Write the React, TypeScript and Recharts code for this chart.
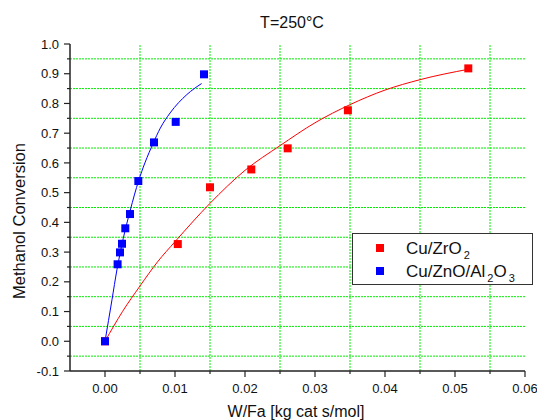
import React from "react";
import {
  ComposedChart, Line, Scatter, XAxis, YAxis, ReferenceLine, Label,
} from "recharts";

// measured points
const ZRO2_X = [0, 0.0104, 0.015, 0.0209, 0.0261, 0.0347, 0.0519];
const ZRO2_Y = [0, 0.327, 0.518, 0.578, 0.649, 0.777, 0.918];
const ZNO_X = [0, 0.0018, 0.00214, 0.00243, 0.0029, 0.00357, 0.00476, 0.007, 0.0101, 0.01414];
const ZNO_Y = [0, 0.259, 0.299, 0.328, 0.38, 0.428, 0.539, 0.669, 0.738, 0.898];

// fitted curves
const ZRO2_FIT_X = [0, 0.0025, 0.005, 0.0075, 0.01, 0.015, 0.02, 0.025, 0.03, 0.035, 0.04, 0.045, 0.0519];
const ZRO2_FIT_Y = [0, 0.1, 0.186, 0.267, 0.335, 0.464, 0.575, 0.658, 0.735, 0.796, 0.845, 0.88, 0.915];
const ZNO_FIT_X = [0, 0.001, 0.0017, 0.0026, 0.0036, 0.0048, 0.0057, 0.0069, 0.0079, 0.0093, 0.0117, 0.0138];
const ZNO_FIT_Y = [0, 0.14, 0.24, 0.345, 0.44, 0.54, 0.6, 0.667, 0.717, 0.768, 0.83, 0.867];

const X_MAJOR = [0, 0.01, 0.02, 0.03, 0.04, 0.05, 0.06];
const X_MINOR = [0.005, 0.015, 0.025, 0.035, 0.045, 0.055];
const Y_MAJOR = [-0.1, 0, 0.1, 0.2, 0.3, 0.4, 0.5, 0.6, 0.7, 0.8, 0.9, 1.0];
const Y_MINOR = [-0.05, 0.05, 0.15, 0.25, 0.35, 0.45, 0.55, 0.65, 0.75, 0.85, 0.95];

const TITLE = "T=250°C";
const X_LABEL = "W/Fa [kg cat s/mol]";
const Y_LABEL = "Methanol Conversion";

const zip = (xs: number[], ys: number[]) => xs.map((x, i) => ({ x, y: ys[i] }));

const FONT = "'Liberation Sans', Arial, sans-serif";
const AXIS = "#222";
const GRID = "#00ee00";

const isMajor = (list: number[], v: number) => list.some((m) => Math.abs(m - v) < 1e-9);

function XTick(props: any) {
  const { x, y, payload } = props;
  const major = isMajor(X_MAJOR, payload.value);
  return (
    <g>
      <line x1={x} x2={x} y1={y} y2={y + (major ? 6 : 3)} stroke={AXIS} strokeWidth={1.2} />
      {major && (
        <text x={x} y={y + 22} textAnchor="middle" fontSize={13} fontFamily={FONT} fill="#111">
          {payload.value.toFixed(2)}
        </text>
      )}
    </g>
  );
}

function YTick(props: any) {
  const { x, y, payload } = props;
  const major = isMajor(Y_MAJOR, payload.value);
  return (
    <g>
      <line x1={x} x2={x - (major ? 6 : 3)} y1={y} y2={y} stroke={AXIS} strokeWidth={1.2} />
      {major && (
        <text x={x - 11} y={y} dy="0.36em" textAnchor="end" fontSize={13} fontFamily={FONT} fill="#111">
          {payload.value.toFixed(1)}
        </text>
      )}
    </g>
  );
}

const LEGEND = [
  { color: "#ff0000", base: "Cu/ZrO", parts: [["2", true]] },
  { color: "#0000ff", base: "Cu/ZnO/Al", parts: [["2", true], ["O", false], ["3", true]] },
] as const;

export default function App() {
  const xTicks = [...X_MAJOR, ...X_MINOR].sort((a, b) => a - b);
  const yTicks = [...Y_MAJOR, ...Y_MINOR].sort((a, b) => a - b);

  return (
    <div style={{ position: "absolute", left: 0, top: 0, width: 537, height: 420, background: "#fff", fontFamily: FONT }}>
      <ComposedChart width={537} height={420} margin={{ top: 44, right: 12, bottom: 0, left: 0 }}>
        <XAxis
          dataKey="x"
          type="number"
          domain={[-0.005, 0.06]}
          ticks={xTicks}
          interval={0}
          allowDataOverflow
          height={49}
          tickSize={0}
          tickMargin={0}
          tickLine={false}
          tick={(p: any) => <XTick {...p} />}
          axisLine={{ stroke: AXIS, strokeWidth: 1.5 }}
        >
          <Label
            content={() => (
              <text x={296} y={417} textAnchor="middle" fontSize={16} fontFamily={FONT} fill="#111">
                {X_LABEL}
              </text>
            )}
          />
        </XAxis>
        <YAxis
          dataKey="y"
          type="number"
          domain={[-0.1, 1.0]}
          ticks={yTicks}
          interval={0}
          allowDataOverflow
          width={70}
          tickSize={0}
          tickMargin={0}
          tickLine={false}
          tick={(p: any) => <YTick {...p} />}
          axisLine={{ stroke: AXIS, strokeWidth: 1.5 }}
        >
          <Label
            content={() => (
              <text
                x={19}
                y={221}
                dy="0.35em"
                transform="rotate(-90 19 221)"
                textAnchor="middle"
                fontSize={16.5}
                fontFamily={FONT}
                fill="#111"
              >
                {Y_LABEL}
              </text>
            )}
          />
        </YAxis>
        {/* grid sits on the minor ticks only */}
        {X_MINOR.map((v) => (
          <ReferenceLine key={`gx${v}`} x={v} stroke={GRID} strokeDasharray="2 1" />
        ))}
        {Y_MINOR.map((v) => (
          <ReferenceLine key={`gy${v}`} y={v} stroke={GRID} strokeDasharray="2 1" />
        ))}
        <Line data={zip(ZRO2_FIT_X, ZRO2_FIT_Y)} dataKey="y" type="monotone" dot={false} stroke="#ff0000" strokeWidth={1} isAnimationActive={false} />
        <Line data={zip(ZNO_FIT_X, ZNO_FIT_Y)} dataKey="y" type="monotone" dot={false} stroke="#0000ff" strokeWidth={1} isAnimationActive={false} />
        <Scatter data={zip(ZRO2_X, ZRO2_Y)} dataKey="y" fill="#ff0000" shape="square" isAnimationActive={false} />
        <Scatter data={zip(ZNO_X, ZNO_Y)} dataKey="y" fill="#0000ff" shape="square" isAnimationActive={false} />
      </ComposedChart>

      <div style={{ position: "absolute", left: 232, top: 13, width: 120, textAlign: "center", fontSize: 16, color: "#111", lineHeight: "20px" }}>
        {TITLE}
      </div>

      {/* legend */}
      <div style={{
        position: "absolute", left: 352, top: 233, width: 179, height: 50,
        border: "1px solid #333", background: "#fff",
      }}>
        {LEGEND.map((e, i) => (
          <div key={i} style={{ position: "absolute", left: 0, top: 3 + i * 23, height: 23, width: "100%" }}>
            <div style={{ position: "absolute", left: 23, top: 7, width: 8, height: 8, background: e.color }} />
            <div style={{ position: "absolute", left: 53, top: 0, fontSize: 17, lineHeight: "23px", color: "#111", whiteSpace: "nowrap" }}>
              {e.base}
              {e.parts.map(([t, sub], j) =>
                sub ? (
                  <span key={j} style={{ fontSize: 11, position: "relative", top: 5, marginLeft: 2 }}>{t}</span>
                ) : (
                  <span key={j}>{t}</span>
                )
              )}
            </div>
          </div>
        ))}
      </div>
    </div>
  );
}
